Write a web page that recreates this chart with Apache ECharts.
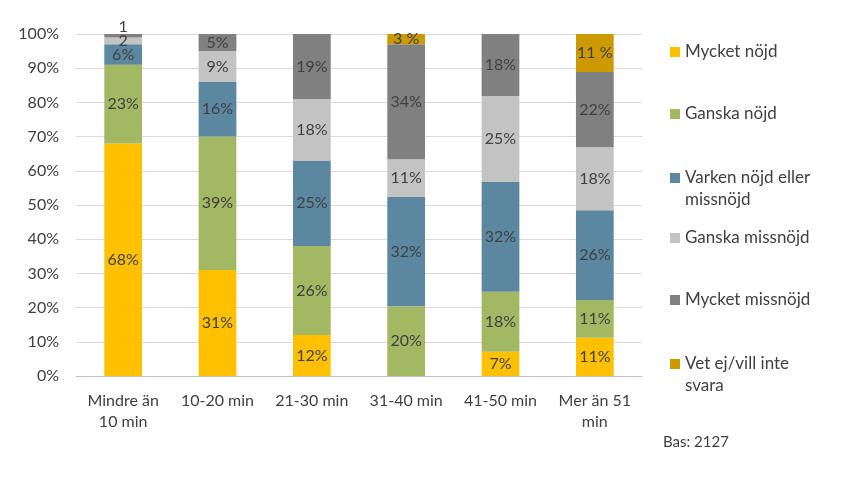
<!DOCTYPE html>
<html><head><meta charset="utf-8">
<script src="https://cdn.jsdelivr.net/npm/echarts@6/dist/echarts.min.js"></script>
<style>html,body{margin:0;padding:0;background:#fff}#c{width:841px;height:481px}</style>
</head><body><div id="c"></div>
<script>
const categories = ['Mindre än\n10 min', '10-20 min', '21-30 min', '31-40 min', '41-50 min', 'Mer än 51\nmin'];
const seriesNames = ['Mycket nöjd', 'Ganska nöjd', 'Varken nöjd eller\nmissnöjd', 'Ganska missnöjd', 'Mycket missnöjd', 'Vet ej/vill inte\nsvara'];
const mycketNojd     = [68, 31, 12, 0,    7.1,  11.2];
const ganskaNojd     = [23, 39, 26, 20.4, 17.5, 11];
const varken         = [6,  16, 25, 32,   32.1, 26.3];
const ganskaMissnojd = [2,  9,  18, 11,   25.2, 18.4];
const mycketMissnojd = [1,  5,  19, 33.6, 18.1, 22];
const vetEj          = [0,  0,  0,  3,    0,    11.1];
const yTicks = [0, 10, 20, 30, 40, 50, 60, 70, 80, 90, 100];

const values = [mycketNojd, ganskaNojd, varken, ganskaMissnojd, mycketMissnojd, vetEj];
const colors = ['#FFC000', '#A3B863', '#5B87A0', '#C3C3C3', '#808080', '#CC9900'];
const FONT = 'Lato';
const TXT = '#404040';

const series = values.map((arr, si) => ({
  name: seriesNames[si],
  type: 'bar',
  stack: 'total',
  barWidth: '40%',
  itemStyle: { color: colors[si] },
  data: arr.map((v, ci) => {
    const item = { value: v };
    if (si === 4 && ci === 0) item.label = { offset: [0, -9] };
    return item;
  }),
  label: {
    show: true,
    position: 'inside',
    color: TXT,
    fontFamily: FONT,
    fontSize: 16,
    formatter: p => {
      const v = Math.round(p.value);
      if (v < 1) return '';
      if (p.value < 3) return String(v);
      return si === 5 ? v + ' %' : v + '%';
    }
  }
}));

const centers = [51, 113, 176, 237, 299, 362];
const legends = seriesNames.map((n, i) => {
  const two = n.indexOf('\n') >= 0;
  return {
    data: [n],
    left: 665,
    top: two ? centers[i] - 36 : centers[i] - 15,
    orient: 'vertical',
    itemWidth: 10,
    itemHeight: 10,
    icon: 'rect',
    selectedMode: false,
    formatter: two ? (name => '\n' + name) : (name => name),
    textStyle: { color: TXT, fontFamily: FONT, fontSize: 17, lineHeight: 22 }
  };
});

const chart = echarts.init(document.getElementById('c'));
chart.setOption({
  animation: false,
  title: { text: 'Bas: 2127', left: 658, top: 430, textStyle: { color: TXT, fontFamily: FONT, fontSize: 15, fontWeight: 'normal' } },
  legend: legends,
  grid: { left: 76, right: 841 - 642, top: 34, bottom: 481 - 376, containLabel: false },
  xAxis: {
    type: 'category',
    data: categories,
    axisTick: { show: false },
    axisLine: { lineStyle: { color: '#BFBFBF' } },
    axisLabel: { color: TXT, fontFamily: FONT, fontSize: 16, lineHeight: 21, margin: 14, interval: 0 }
  },
  yAxis: {
    type: 'value',
    min: yTicks[0],
    max: yTicks[yTicks.length - 1],
    interval: 10,
    axisLine: { show: false },
    axisTick: { show: false },
    splitLine: { lineStyle: { color: '#D9D9D9' } },
    axisLabel: { color: TXT, fontFamily: FONT, fontSize: 16, margin: 17, formatter: '{value}%' }
  },
  series: series
});
</script></body></html>
